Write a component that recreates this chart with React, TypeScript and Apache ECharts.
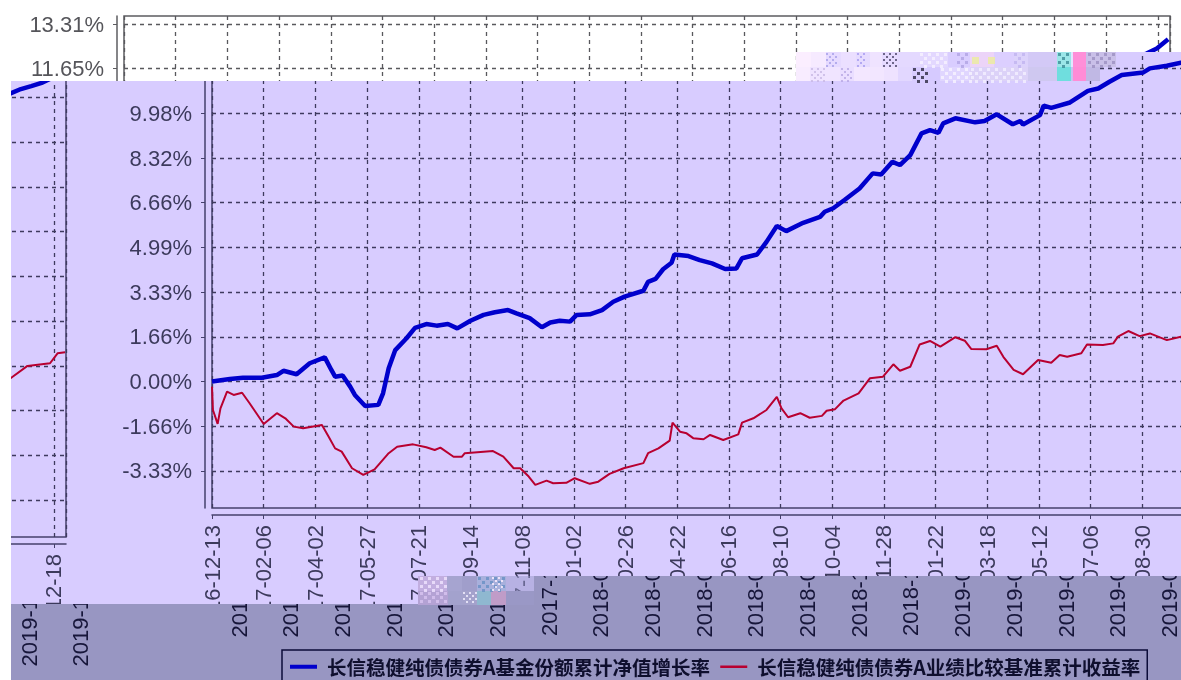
import React, { useEffect, useRef } from "react";
import * as echarts from "echarts";

const TICK_LABELS = ["2016-12-13","2017-02-06","2017-04-02","2017-05-27","2017-07-21","2017-09-14","2017-11-08","2018-01-02","2018-02-26","2018-04-22","2018-06-16","2018-08-10","2018-10-04","2018-11-28","2019-01-22","2019-03-18","2019-05-12","2019-07-06","2019-08-30","2019-10-24","2019-12-18"];
const Y_TICKS = [-3.33,-1.66,0,1.66,3.33,4.99,6.66,8.32,9.98,11.65,13.31];
const FUND_NAME = "长信稳健纯债债券A基金份额累计净值增长率";
const BENCH_NAME = "长信稳健纯债债券A业绩比较基准累计收益率";

const FUND_DAYS = [0,19,33,53,69,76,90,104,120,127,131,139,147,152,163,177,182,188,195,207,216,228,239,251,261,275,289,301,315,324,338,351,360,370,381,388,402,415,427,439,459,464,472,480,489,492,507,519,532,546,558,564,580,590,601,611,629,647,652,661,673,689,703,712,724,732,743,755,764,773,778,791,812,822,835,852,860,863,881,885,893,913,932,943,955,968,991,998,1016,1031,1044,1054,1065,1076,1088,1099,1111];
const FUND_VALUES = [0,0.09,0.14,0.14,0.24,0.40,0.27,0.68,0.90,0.43,0.18,0.22,-0.19,-0.50,-0.91,-0.87,-0.44,0.49,1.17,1.61,2.00,2.14,2.08,2.14,1.98,2.26,2.48,2.58,2.66,2.54,2.36,2.02,2.20,2.26,2.23,2.48,2.50,2.66,2.97,3.16,3.38,3.71,3.82,4.18,4.42,4.73,4.67,4.52,4.40,4.19,4.21,4.59,4.73,5.20,5.79,5.60,5.91,6.13,6.32,6.45,6.76,7.19,7.75,7.71,8.18,8.06,8.43,9.24,9.36,9.26,9.61,9.80,9.65,9.70,9.95,9.58,9.70,9.57,9.92,10.27,10.19,10.39,10.82,10.91,11.16,11.41,11.51,11.66,11.76,11.87,11.89,11.81,11.97,12.08,12.21,12.40,12.74];
const BENCH_DAYS = [0,1,6,9,16,23,32,40,55,69,78,87,97,117,124,131,138,149,161,173,188,197,214,228,237,243,257,266,269,299,310,321,328,337,344,356,363,377,386,402,411,423,438,459,464,475,487,490,498,505,512,523,530,544,560,564,576,590,601,606,613,626,636,649,654,663,672,688,700,714,725,732,743,753,764,775,791,801,808,824,835,842,853,863,879,893,902,910,925,931,948,959,964,975,987,998,1016,1031,1044,1054,1072,1096,1104,1112];
const BENCH_VALUES = [-0.19,-1.06,-1.58,-1.00,-0.38,-0.50,-0.42,-0.81,-1.58,-1.18,-1.37,-1.68,-1.74,-1.62,-2.05,-2.49,-2.61,-3.23,-3.48,-3.27,-2.67,-2.43,-2.34,-2.45,-2.55,-2.46,-2.80,-2.80,-2.67,-2.59,-2.80,-3.23,-3.23,-3.54,-3.85,-3.69,-3.79,-3.77,-3.60,-3.81,-3.73,-3.44,-3.23,-3.04,-2.67,-2.49,-2.20,-1.53,-1.87,-1.93,-2.11,-2.15,-1.99,-2.18,-1.97,-1.53,-1.37,-1.06,-0.57,-1.00,-1.33,-1.18,-1.35,-1.28,-1.09,-1.03,-0.71,-0.44,0.12,0.18,0.64,0.40,0.55,1.38,1.51,1.30,1.65,1.52,1.21,1.20,1.33,0.92,0.43,0.27,0.80,0.70,0.99,0.92,1.05,1.38,1.36,1.42,1.67,1.88,1.69,1.79,1.54,1.67,1.36,1.20,1.66,1.76,2.13,2.17];

const pairs = (xs: number[], ys: number[]) => xs.map((x, i) => [x, ys[i]]);

type Palette = { bg: string; text: string; axis: string; grid: string };
const WHITE: Palette = { bg: "#ffffff", text: "#55555a", axis: "#5c5c60", grid: "#58585c" };
const LAVENDER: Palette = { bg: "#d8ccff", text: "#3c3a5c", axis: "#45406c", grid: "#3e3a5e" };
const DARK: Palette = { bg: "#9896c2", text: "#17163a", axis: "#17163a", grid: "#17163a" };

const MAIN_X = TICK_LABELS.slice(0, 19);
const WRAP_X = TICK_LABELS.slice(19);
const TOP_Y = Y_TICKS.slice(9);
const MAIN_Y = Y_TICKS.slice(0, 9);

function chartOption(p: Palette, withLegend: boolean, xShown: string[], yShown: number[]): any {
  const text = { fontFamily: "Liberation Sans, Arial, sans-serif", fontSize: 22, color: p.text };
  return {
    animation: false,
    backgroundColor: "transparent",
    legend: withLegend
      ? {
          show: true,
          left: 167,
          top: 650,
          orient: "horizontal",
          itemWidth: 27,
          itemHeight: 14,
          itemGap: 9,
          padding: [7, 7, 16, 6],
          borderColor: "#0b0b38",
          borderWidth: 1.5,
          selectedMode: false,
          itemStyle: { opacity: 0 },
          data: [
            { name: FUND_NAME, lineStyle: { width: 4, color: "#0000cc" } },
            { name: BENCH_NAME, lineStyle: { width: 2.5, color: "#b80030" } },
          ],
          textStyle: {
            fontFamily: "Noto Sans CJK SC",
            fontWeight: "bold",
            fontSize: 19.5,
            color: "#0f0f2e",
            padding: [0, 0, 0, 5],
          },
        }
      : { show: false },
    grid: { show: true, left: 124, top: 16, width: 1046, height: 492, borderColor: p.axis, borderWidth: 1.5, backgroundColor: "transparent" },
    xAxis: {
      type: "value",
      min: 0,
      max: 1113,
      interval: 55,
      position: "bottom",
      offset: 7,
      axisLine: { show: true, onZero: false, lineStyle: { color: p.axis, width: 1.5 } },
      axisTick: { show: true, length: 4, lineStyle: { color: p.axis, width: 1 } },
      splitLine: { show: true, lineStyle: { color: p.grid, type: [4, 4], width: 1.3 } },
      axisLabel: {
        ...text,
        show: xShown.length > 0,
        rotate: 90,
        margin: 10,
        showMaxLabel: false,
        hideOverlap: false,
        formatter: (v: number) => {
          const s = TICK_LABELS[v / 55];
          return s && xShown.includes(s) ? s : "";
        },
      },
    },
    yAxis: {
      type: "value",
      min: -4.71,
      max: 13.61,
      position: "left",
      offset: 7,
      axisLine: { show: true, onZero: false, lineStyle: { color: p.axis, width: 1.5 } },
      axisTick: { show: true, length: 4, customValues: Y_TICKS, lineStyle: { color: p.axis, width: 1 } },
      splitLine: { show: true, lineStyle: { color: p.grid, type: [4, 4], width: 1.3 } },
      axisLabel: yShown.length
        ? { ...text, margin: 13, customValues: yShown, formatter: (v: number) => `${v.toFixed(2)}%` }
        : { show: false },
    },
    series: [
      { name: FUND_NAME, type: "line", symbol: "none", data: pairs(FUND_DAYS, FUND_VALUES), lineStyle: { color: "#0000cc", width: 4.5 }, itemStyle: { color: "#0000cc" }, z: 4 },
      { name: BENCH_NAME, type: "line", symbol: "none", data: pairs(BENCH_DAYS, BENCH_VALUES), lineStyle: { color: "#b80030", width: 2 }, itemStyle: { color: "#b80030" }, z: 3 },
    ],
  };
}

type PanelProps = { clip: string; dx: number; dy: number; palette: Palette; fill: boolean; legend?: boolean; xShown: string[]; yShown: number[] };

function Panel({ clip, dx, dy, palette, fill, legend, xShown, yShown }: PanelProps) {
  const ref = useRef<HTMLDivElement>(null);
  useEffect(() => {
    const chart = echarts.init(ref.current!, undefined, { renderer: "svg" });
    chart.setOption(chartOption(palette, !!legend, xShown, yShown));
    return () => chart.dispose();
  }, []);
  return (
    <div style={{ position: "absolute", left: 0, top: 0, width: 1181, height: 680, clipPath: clip, background: fill ? palette.bg : "transparent", overflow: "hidden" }}>
      <div ref={ref} style={{ position: "absolute", left: dx, top: dy, width: 1192, height: 680 }} />
    </div>
  );
}

// Corrupted-image block decoration: [x, y, width, height, colour]
const BLOCKS_TOP: [number, number, number, number, string][] = [
  [796,52,15,15,"#fbeeff"],[811,52,15,15,"#f6eaff"],[826,52,15,15,"#e6daff"],[841,52,15,15,"#ebdfff"],[856,52,14,15,"#e6dbff"],[870,52,12,15,"#efe3ff"],[882,52,16,15,"#e6daff"],[898,52,22,15,"#e4d9ff"],[920,52,28,15,"#e3d8ff"],[948,52,22,15,"#d9cdff"],[970,52,24,15,"#ecd4f8"],[994,52,20,15,"#dccfff"],[1014,52,14,15,"#dcd2fb"],[1028,52,29,15,"#d3c9f6"],[1057,52,14,15,"#9be6e8"],[1071,52,2,15,"#e2e6ff"],[1073,52,13,15,"#ff8fd8"],[1086,52,30,15,"#c9bfe8"],
  [796,67,14,14,"#f8ecff"],[810,67,15,14,"#efe3ff"],[825,67,15,14,"#f0e4ff"],[840,67,14,14,"#eadeff"],[854,67,16,14,"#f3e7ff"],[870,67,14,14,"#f2e6ff"],[884,67,14,14,"#eee2ff"],[898,67,14,14,"#e2d7ff"],[912,67,14,14,"#d8ccff"],[926,67,14,14,"#d6caff"],[940,67,30,14,"#e0d6ff"],[970,67,58,14,"#dcd2f8"],[1028,67,29,14,"#cfc8f0"],[1057,67,14,14,"#6fdede"],[1071,67,2,14,"#c8c4f0"],[1073,67,13,14,"#ff8cd6"],[1086,67,14,14,"#c0b8e4"],
];
const BLOCKS_BOTTOM: [number, number, number, number, string][] = [
  [418,576,29,15,"#c2aee0"],[447,576,15,15,"#a6a4d0"],[462,576,15,15,"#a09ecb"],[477,576,29,15,"#a8b0dc"],[506,576,28,15,"rgba(150,150,200,0.5)"],
  [418,591,30,14,"#b4a2d4"],[448,591,14,14,"#a3a2cd"],[462,591,15,14,"#a4a2cc"],[477,591,14,14,"#8fb8d0"],[491,591,15,14,"#c09cc8"],[506,591,28,14,"#9a98c6"],
];
// Speckled blocks: [x, y, width, height, colour, step]
const SPECKLES: [number, number, number, number, string, number][] = [
  [826,53,10,13,"#a8a0e8",3],[857,53,9,13,"#a89cf0",3],[883,53,15,13,"#50486c",3],[920,53,27,13,"#f6f2ff",4],[957,53,10,13,"#b0a4e4",4],[972,57,22,7,"#ecec9c",8],[1014,53,9,13,"#c0b4f0",4],[1058,53,12,13,"#3c8c96",4],[1088,53,27,13,"#9c90c0",4],
  [811,68,13,13,"#c8b8e4",3],[841,68,11,13,"#b8a8e4",3],[913,68,13,13,"#2c2840",4],[941,68,29,13,"#f8f4ff",4],[971,68,56,13,"#f4f0ff",4],
  [420,577,26,13,"#f0e4ff",4],[478,577,26,13,"#6890c4",4],[492,577,12,13,"#fff0ff",3],[420,592,26,12,"#d8c4f0",4],[463,592,14,12,"#f2f0ff",3],
];

function Glitch() {
  const ref = useRef<HTMLDivElement>(null);
  useEffect(() => {
    const chart = echarts.init(ref.current!, undefined, { renderer: "svg" });
    const elements: any[] = [];
    [...BLOCKS_TOP, ...BLOCKS_BOTTOM].forEach(([x, y, w, h, c]) =>
      elements.push({ type: "rect", shape: { x, y, width: w, height: h }, style: { fill: c }, silent: true })
    );
    SPECKLES.forEach(([x, y, w, h, c, s]) => {
      for (let j = 0; j * s < h; j++)
        for (let i = 0; i * s < w; i++)
          if ((i + j) % 2 === 0)
            elements.push({ type: "rect", shape: { x: x + i * s, y: y + j * s, width: s - 1, height: s - 1 }, style: { fill: c, opacity: 0.8 }, silent: true });
    });
    chart.setOption({ animation: false, graphic: { elements } });
    return () => chart.dispose();
  }, []);
  return <div ref={ref} style={{ position: "absolute", left: 0, top: 0, width: 1181, height: 680 }} />;
}

export default function App() {
  useEffect(() => {
    document.body.style.margin = "0";
  }, []);
  return (
    <div style={{ position: "fixed", left: 0, top: 0, width: 1181, height: 680, background: "#fff", overflow: "hidden", filter: "blur(0.7px)" }}>
      <Panel clip="polygon(0px 0px,1181px 0px,1181px 81px,0px 81px)" dx={0} dy={0} palette={WHITE} fill xShown={[]} yShown={TOP_Y} />
      <Panel clip="polygon(11px 81px,796px 81px,796px 52px,1181px 52px,1181px 604px,11px 604px)" dx={88} dy={0} palette={LAVENDER} fill xShown={MAIN_X} yShown={MAIN_Y} />
      <Panel clip="polygon(11px 81px,88px 81px,88px 604px,11px 604px)" dx={-1104} dy={29} palette={LAVENDER} fill={false} xShown={WRAP_X.slice(1)} yShown={[]} />
      <Panel clip="polygon(11px 604px,534px 604px,534px 576px,1181px 576px,1181px 680px,11px 680px)" dx={115} dy={0} palette={DARK} fill legend xShown={MAIN_X} yShown={[]} />
      <Panel clip="polygon(11px 604px,115px 604px,115px 680px,11px 680px)" dx={-1077} dy={29} palette={DARK} fill={false} xShown={WRAP_X} yShown={[]} />
      <Glitch />
    </div>
  );
}
